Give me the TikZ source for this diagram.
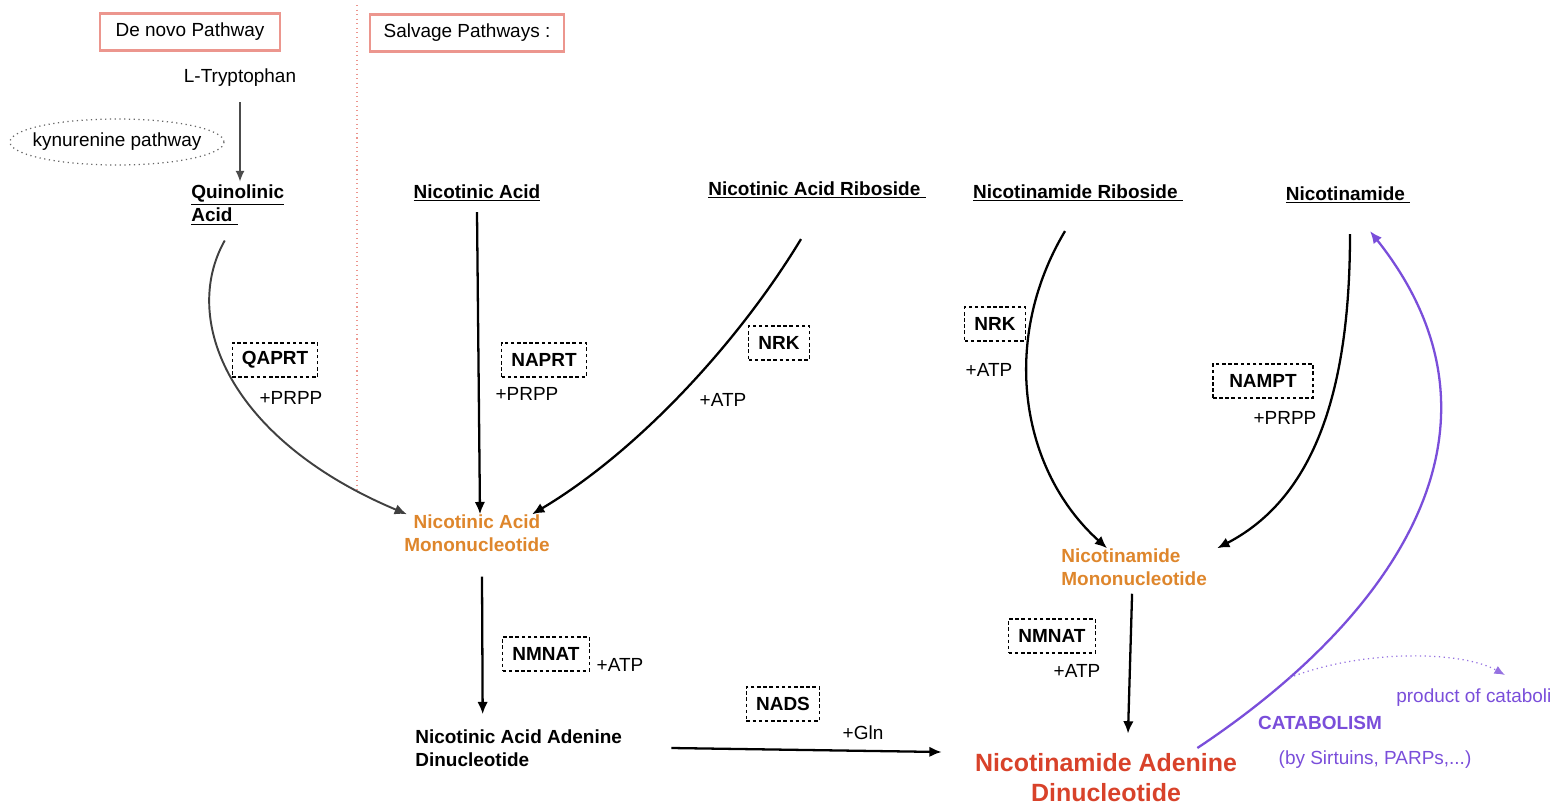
\documentclass[tikz,border=0pt]{standalone}
\usepackage{fontspec}
\setmainfont{Liberation Sans}
\usetikzlibrary{shapes.geometric,arrows.meta}
\definecolor{salmon}{RGB}{236,150,142}
\definecolor{namcol}{RGB}{222,134,44}
\definecolor{nadcol}{RGB}{216,66,42}
\definecolor{catcol}{RGB}{122,78,218}
\begin{document}
\begin{tikzpicture}[x=0.02cm,y=-0.02cm]
\tikzstyle{txt}=[inner sep=0pt,font=\fontsize{10.8}{13}\selectfont]
\tikzstyle{mol}=[inner sep=0pt,font=\fontsize{10.8}{13}\selectfont\bfseries]
\tikzstyle{enz}=[draw,dash pattern=on 2pt off 1.5pt,line width=0.6pt,inner xsep=5.5pt,minimum height=0.68cm,font=\fontsize{10.8}{13}\selectfont\bfseries]
\tikzstyle{head}=[draw=salmon,line width=1.2pt,inner xsep=9pt,minimum height=0.74cm,font=\fontsize{10.8}{13}\selectfont]
\tikzstyle{arr}=[-{Latex[length=7pt,width=6pt]},line width=1.3pt]
\clip (0,0) rectangle (1555,805);
% headers
\node[head] at (190,32) (denovo) {De novo Pathway};
\node[head,inner xsep=8pt] at (467,33) (salvage) {Salvage Pathways :};
\draw[salmon,dotted,line width=0.6pt] (357,5) -- (357,490);
% de novo
\node[txt] at (240,78) (trp) {L-Tryptophan};
\node[txt] at (117,142) (kyn) {kynurenine pathway};
\draw[black!60,dotted,line width=0.7pt] (kyn.center) ellipse [x radius=107, y radius=23];
\node[mol,align=left,anchor=west] at (191,205) (qa) {\underline{Quinolinic}\\\underline{Acid\ }};
\draw[-{Latex[length=6pt,width=5pt]},line width=0.6pt,black!70] ([yshift=-0.3cm]trp.south) -- ([yshift=0.06cm]trp.south |- qa.north);
% precursors
\node[mol] at (477,193) (na) {\underline{Nicotinic Acid}};
\node[mol] at (817,190) (nar) {\underline{Nicotinic Acid Riboside\ }};
\node[mol] at (1078,193) (nr) {\underline{Nicotinamide Riboside\ }};
\node[mol] at (1348,195) (nam) {\underline{Nicotinamide\ }};
% mononucleotides
\node[mol,text=namcol,align=center] at (477,533) (namn) {Nicotinic Acid\\Mononucleotide};
\node[mol,text=namcol,align=left,anchor=west] at (1061,567) (nmn) {Nicotinamide\\Mononucleotide};
\node[mol,align=left,anchor=west] at (415,748) (naad) {Nicotinic Acid Adenine\\Dinucleotide};
\node[mol,text=nadcol,align=center,font=\fontsize{14.2}{17}\selectfont\bfseries] at (1106,778) (nad) {Nicotinamide Adenine\\Dinucleotide};
% enzymes
\node[enz] at (275,360) (qaprt) {QAPRT};
\node[txt] at (291,398) (prpp1) {+PRPP};
\node[enz] at (544,360) (naprt) {NAPRT};
\node[txt] at (527,394) (prpp2) {+PRPP};
\node[enz] at (779,343) (nrk1) {NRK};
\node[txt] at (723,400) (atp1) {+ATP};
\node[enz] at (995,324) (nrk2) {NRK};
\node[txt] at (989,370) (atp2) {+ATP};
\node[enz,minimum width=2cm] at (1263,381) (nampt) {NAMPT};
\node[txt] at (1285,418) (prpp3) {+PRPP};
\node[enz] at (546,654) (nmnat1) {NMNAT};
\node[txt] at (620,665) (atp3) {+ATP};
\node[enz] at (1052,636) (nmnat2) {NMNAT};
\node[txt] at (1077,671) (atp4) {+ATP};
\node[enz] at (783,704) (nads) {NADS};
\node[txt] at (863,733) (gln) {+Gln};
% reactions
\draw[arr,line width=1.1pt,black!75] ([xshift=-0.26cm,yshift=-0.3cm]qa.south) .. controls (180,320) and (230,440) .. ([xshift=0.06cm]namn.north west);
\draw[arr] ([yshift=-0.2cm]na.south) -- ([xshift=0.06cm]namn.north);
\draw[arr] ([xshift=-0.32cm,yshift=-0.8cm]nar.south) .. controls (740,340) and (640,450) .. ([xshift=-0.36cm]namn.north east);
\draw[arr] ([xshift=-0.26cm,yshift=-0.58cm]nr.south) .. controls (1000,340) and (1020,470) .. ([xshift=-0.54cm]nmn.north);
\draw[arr] ([xshift=0.04cm,yshift=-0.6cm]nam.south) .. controls (1350,400) and (1310,500) .. ([xshift=0.2cm]nmn.north east);
\draw[arr] ([xshift=0.1cm,yshift=-0.5cm]namn.south) -- ([xshift=-0.72cm,yshift=0.3cm]naad.north);
\draw[arr] ([xshift=-0.04cm,yshift=-0.16cm]nmn.south) -- ([xshift=0.44cm,yshift=0.4cm]nad.north);
\draw[arr] ([xshift=0.98cm]naad.east) -- ([xshift=-0.66cm,yshift=0.52cm]nad.west);
% catabolism
\draw[arr,catcol] ([xshift=-0.8cm,yshift=0.6cm]nad.east) .. controls (1390,620) and (1528,430) .. coordinate[pos=0.17] (catpt) ([xshift=0.44cm,yshift=-0.54cm]nam.south);
\node[mol,text=catcol] at (1320,723) (cat) {CATABOLISM};
\node[txt,text=catcol] at (1375,760) (sirt) {(by Sirtuins, PARPs,...)};
\node[txt,text=catcol,anchor=west] at (1396,698) (prod) {product of cataboli};
\draw[-{Latex[length=6pt,width=5pt]},catcol!80,dotted,line width=0.7pt] (catpt) .. controls (1360,650) and (1460,650) .. ([xshift=2.18cm,yshift=0.46cm]prod.west);
\end{tikzpicture}
\end{document}
